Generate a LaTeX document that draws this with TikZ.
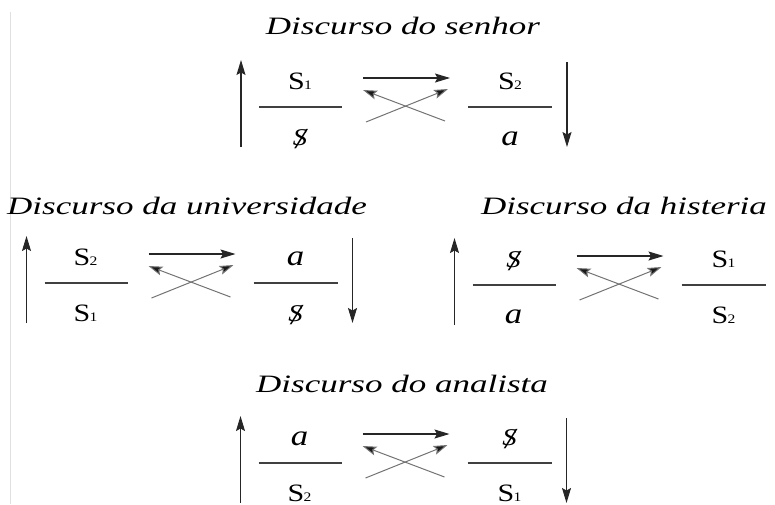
\documentclass[tikz,border=0pt]{standalone}
\usepackage{fontspec}
\setmainfont[FakeStretch=1.4]{Liberation Serif}
\newfontfamily\termfont[FakeStretch=1.2]{Liberation Serif}
\usetikzlibrary{arrows.meta}
\newcommand\Sx[1]{S\kern-0.5pt{\fontsize{13pt}{13pt}\selectfont #1}}
\newcommand\barS{{\itshape\fontsize{24pt}{24pt}\selectfont\ooalign{S\cr\hidewidth\kern1.5pt\raisebox{-3pt}{\fontsize{29pt}{29pt}\selectfont /}\hidewidth\cr}}}
\newcommand\ita{{\itshape\fontsize{29pt}{29pt}\selectfont a}}
\newcommand\Disc[6]{%
 \begin{scope}[shift={(#2)}]
  \coordinate (#1-ub) at (-59,40);  \coordinate (#1-ut) at (-59,-47);
  \coordinate (#1-l1) at (-41,0);   \coordinate (#1-l2) at (42,0);
  \coordinate (#1-r1) at (168,0);   \coordinate (#1-r2) at (252,0);
  \coordinate (#1-ta) at (63,-29);  \coordinate (#1-tb) at (150,-29);
  \coordinate (#1-xa) at (66,15);   \coordinate (#1-xb) at (148,-18);
  \coordinate (#1-ya) at (145,14);  \coordinate (#1-yb) at (63,-17);
  \coordinate (#1-dt) at (267,-45); \coordinate (#1-db) at (267,40);
  \node[term] (#1-n1) at (0,-18) {#3};
  \node[term] (#1-d1) at (0,38) {#4};
  \node[term] (#1-n2) at (210,-18) {#5};
  \node[term] (#1-d2) at (210,38) {#6};
 \end{scope}
 \draw[arr] (#1-ub) -- (#1-ut);
 \draw[frac] (#1-l1) -- (#1-l2);
 \draw[frac] (#1-r1) -- (#1-r2);
 \draw[arr] (#1-ta) -- (#1-tb);
 \draw[xarr] (#1-xa) -- (#1-xb);
 \draw[xarr] (#1-ya) -- (#1-yb);
 \draw[arr] (#1-dt) -- (#1-db);
}
\begin{document}
\begin{tikzpicture}[x=1pt,y=-1pt,
  arr/.style={line width=1.1pt, draw=black!85, -{Stealth[length=15pt,width=9pt,inset=2.5pt]}},
  frac/.style={line width=1.2pt, draw=black!75},
  xarr/.style={line width=1pt, draw=black!55, -{Stealth[length=14pt,width=9pt,inset=2.5pt,fill=black!90]}},
  term/.style={anchor=base, inner sep=0pt, font=\termfont\fontsize{25pt}{25pt}\selectfont},
  title/.style={anchor=base, inner sep=0pt, font=\fontsize{25pt}{25pt}\selectfont\itshape},
  edge/.style={line width=0.6pt, draw=black!12}]
\useasboundingbox (0,0) rectangle (775,504);
\clip (0,0) rectangle (775,504);
\coordinate (e1) at (10,12); \coordinate (e2) at (10,504);
\draw[edge] (e1) -- (e2);
\node[title] (t1) at (403,34) {Discurso do senhor};
\node[title] (t2) at (187,214) {Discurso da universidade};
\node[title] (t3) at (624,214) {Discurso da histeria};
\node[title] (t4) at (402,392) {Discurso do analista};
\Disc{b1}{300,107}{\Sx{1}}{\barS}{\Sx{2}}{\ita}
\Disc{b2}{85.5,283}{\Sx{2}}{\Sx{1}}{\ita}{\barS}
\Disc{b3}{513.5,285}{\barS}{\ita}{\Sx{1}}{\Sx{2}}
\Disc{b4}{299.5,463}{\ita}{\Sx{2}}{\barS}{\Sx{1}}
\end{tikzpicture}
\end{document}
